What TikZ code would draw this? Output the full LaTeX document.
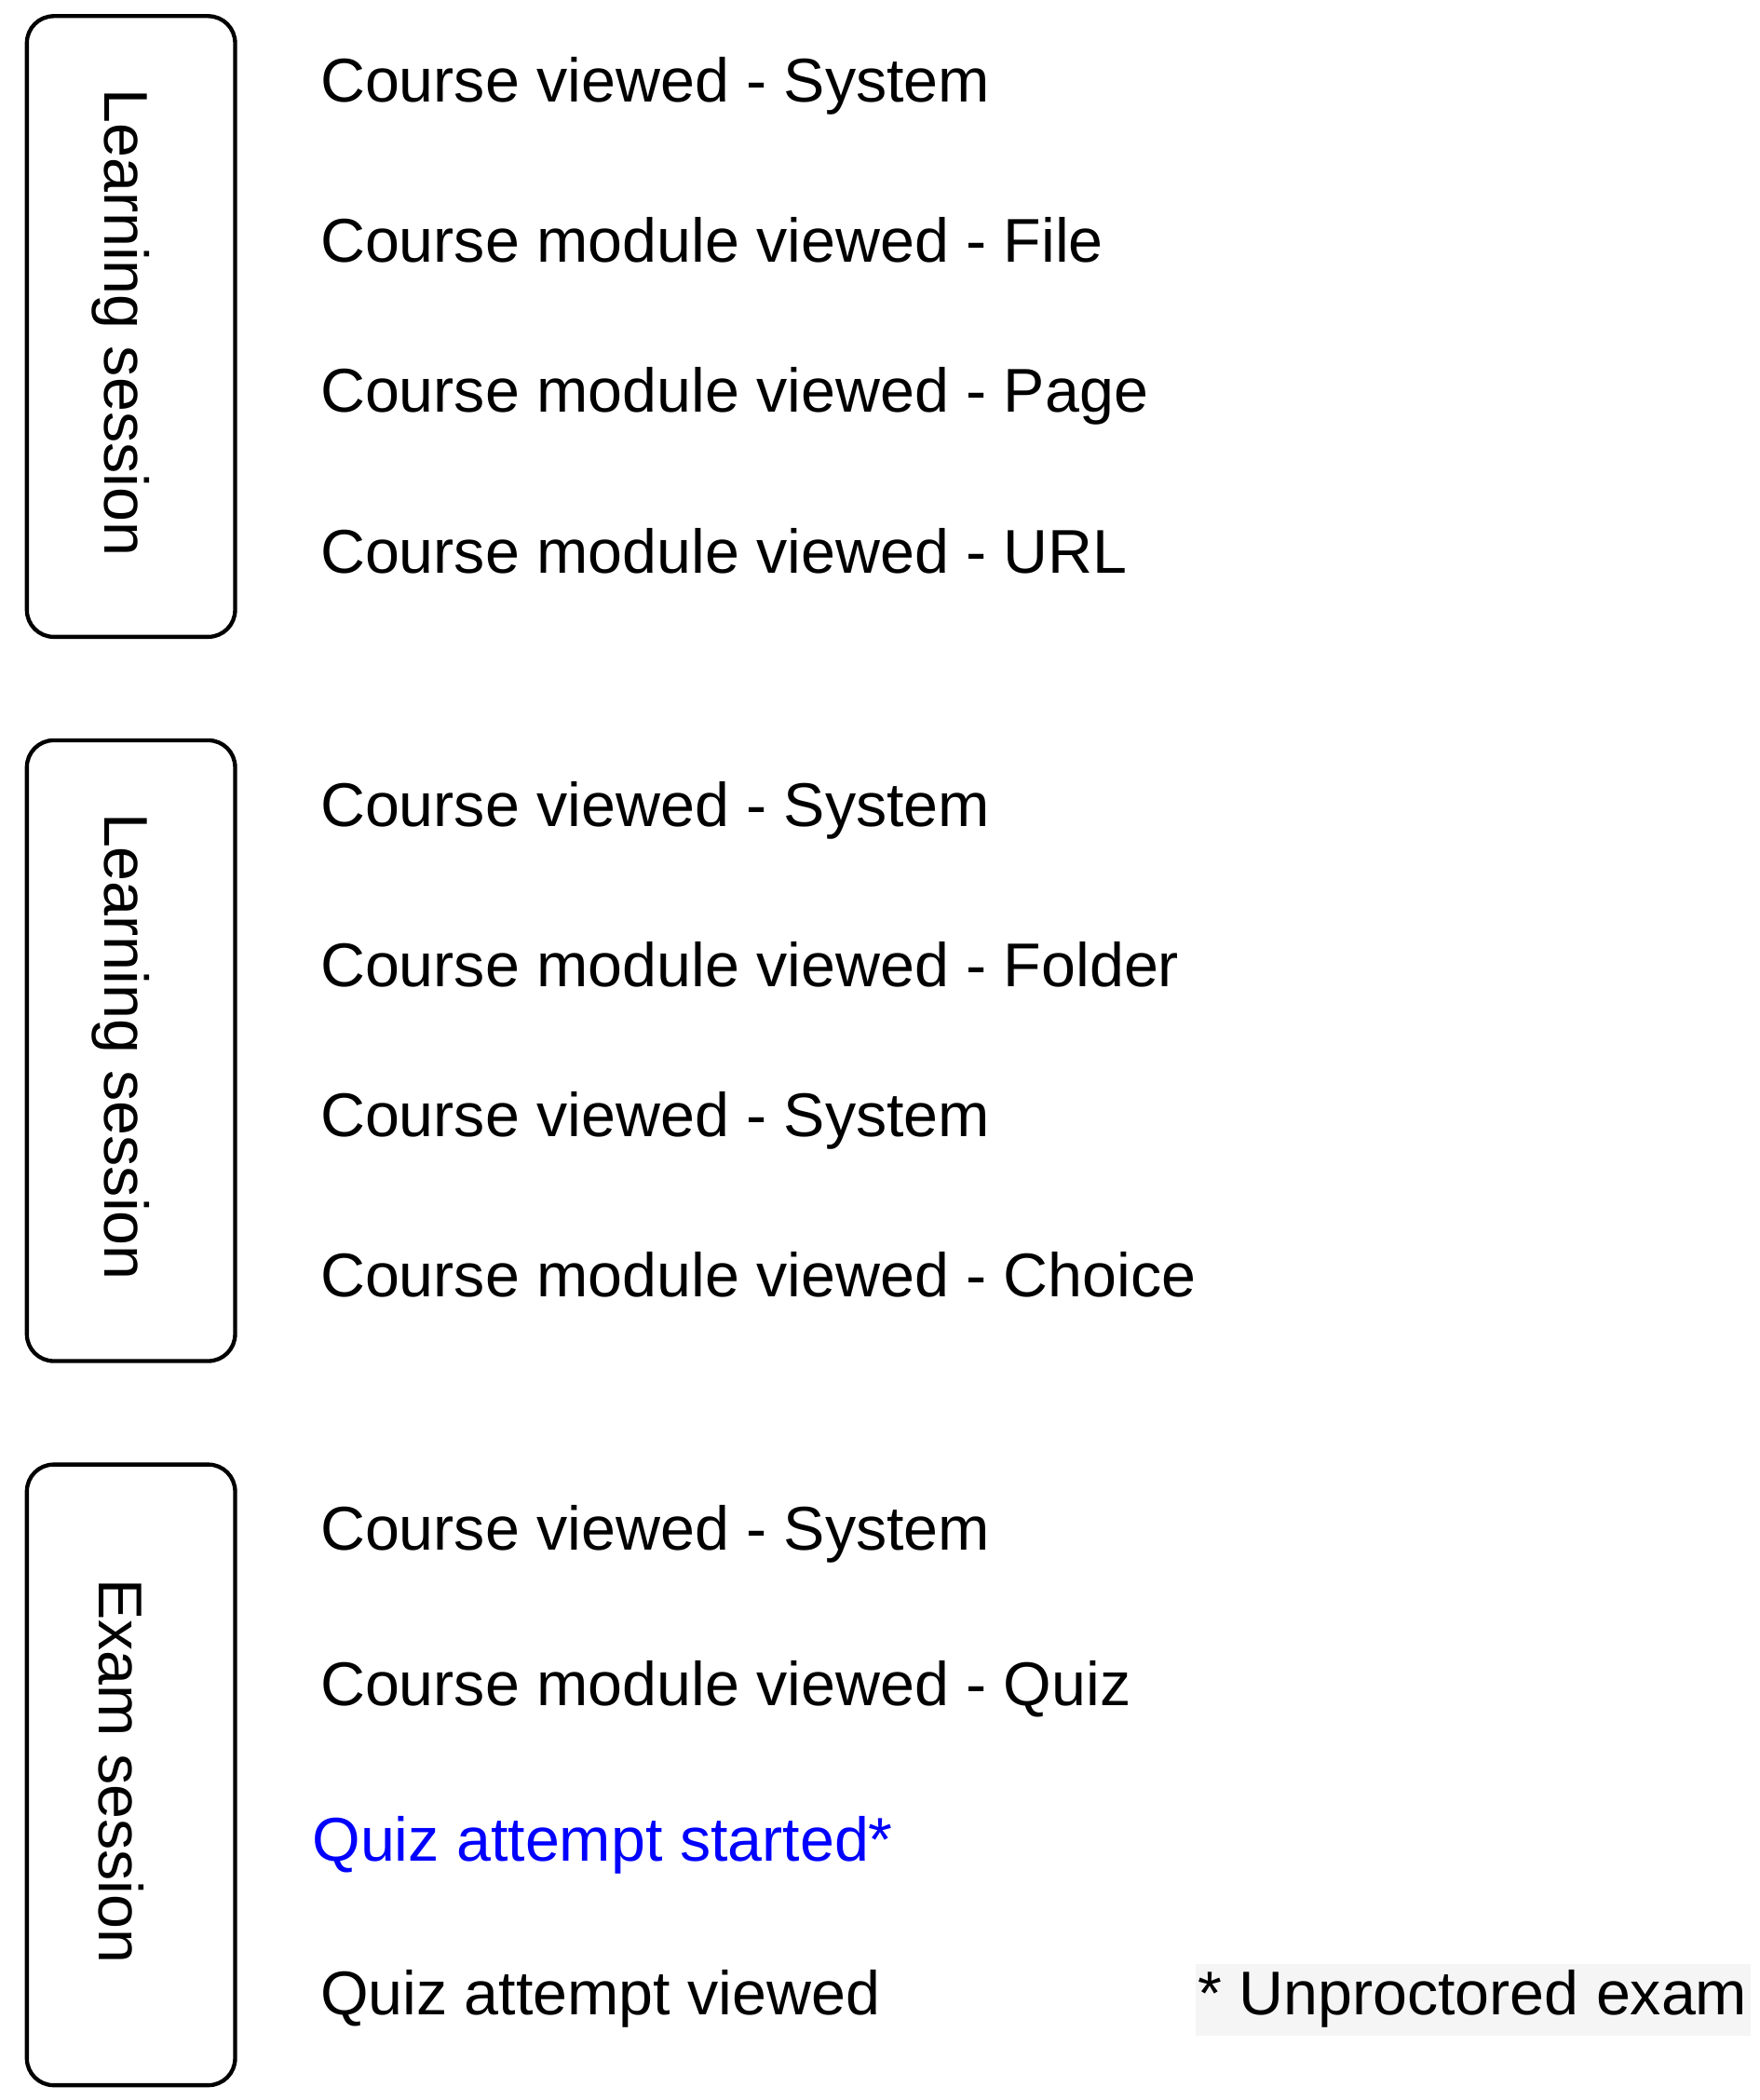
\documentclass[tikz,border=0pt]{standalone}
\usepackage{fontspec}
\setmainfont{Liberation Sans}
\usetikzlibrary{positioning}
\tikzset{every picture/.style={line width=1.5pt}}
\tikzset{
  session/.style={draw, rounded corners=10pt},
  sesslabel/.style={rotate=-90, font=\fontsize{23}{27}\selectfont, inner sep=0pt},
  event/.style={anchor=west, font=\fontsize{23}{27}\selectfont, inner sep=0pt},
}
\begin{document}
\begin{tikzpicture}[x=0.5pt,y=0.5pt,yscale=-1]
\useasboundingbox (0,0) rectangle (1310,1563);

%Session boxes
\draw[session] (20,12) rectangle (175,474);
\draw[session] (20,551) rectangle (175,1013);
\draw[session] (20,1090) rectangle (175,1552);
\node[sesslabel] (learnA) at (90,240) {Learning session};
\node[sesslabel] (learnB) at (90,779) {Learning session};
\node[sesslabel] (exam) at (90,1318) {Exam session};

% First learning session
\node[event] (evA1) at (237,64) {Course viewed - System};
\node[event] (evA2) at (237,179) {Course module viewed - File};
\node[event] (evA3) at (237,295) {Course module viewed - Page};
\node[event] (evA4) at (237,410) {Course module viewed - URL};

% Second learning session
\node[event] (evB1) at (237,603) {Course viewed - System};
\node[event] (evB2) at (237,718) {Course module viewed - Folder};
\node[event] (evB3) at (237,834) {Course viewed - System};
\node[event] (evB4) at (237,949) {Course module viewed - Choice};

% Exam session
\node[event] (evC1) at (237,1142) {Course viewed - System};
\node[event] (evC2) at (237,1257) {Course module viewed - Quiz};
\node[event, text={rgb,255:red,0;green,0;blue,255}] (evC3) at (231,1373) {Quiz attempt started*};
\node[event] (evC4) at (237,1488) {Quiz attempt viewed};

% Note
\fill[black!4] (890,1462) rectangle (1303,1515);
\node[event] (note) at (890,1488) {* Unproctored exam};
\end{tikzpicture}
\end{document}
